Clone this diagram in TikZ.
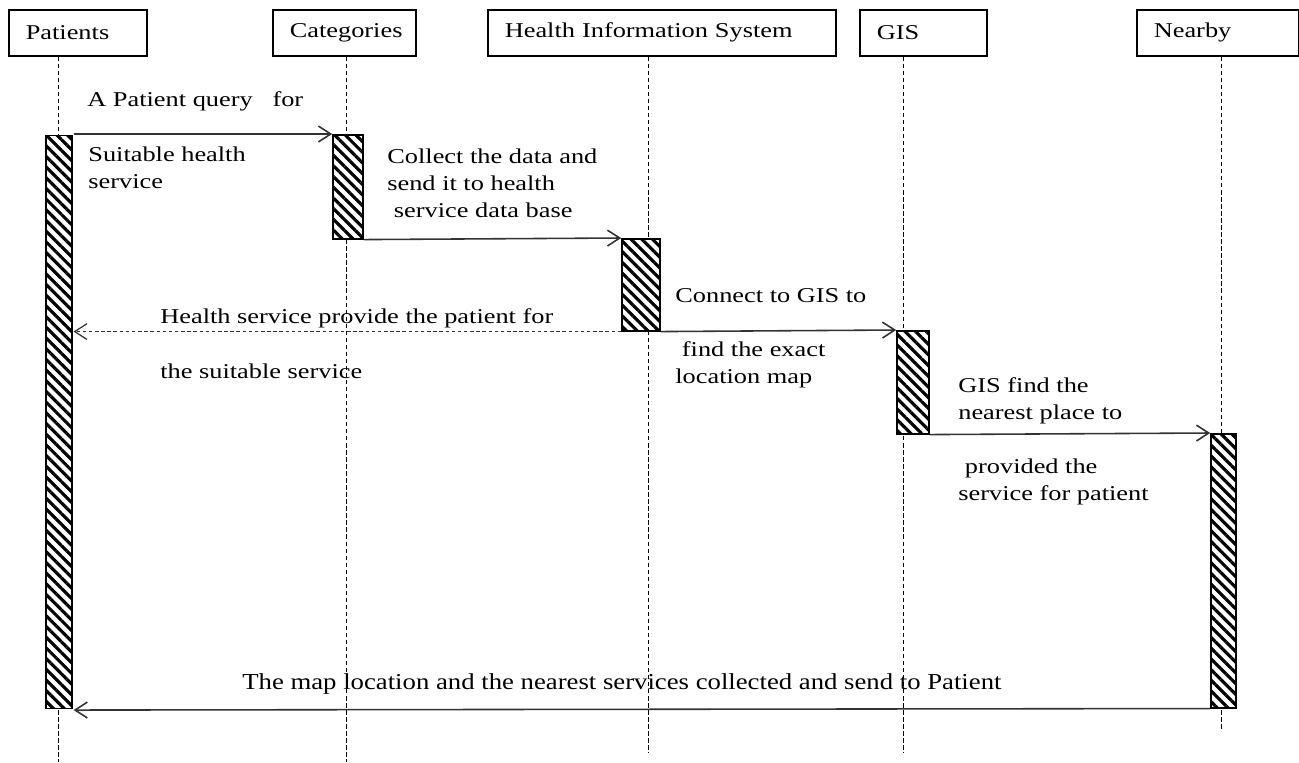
\documentclass[tikz,border=0pt]{standalone}
\usepackage{fontspec}
\setmainfont[FakeStretch=1.25]{Liberation Serif}
\newfontfamily\WideFont[FakeStretch=1.17]{Liberation Serif}
\usepackage{tikz}
\usetikzlibrary{arrows.meta}
\usetikzlibrary{patterns.meta}
\tikzstyle{HeadBox}=[draw,line width=0.9pt,anchor=north west,minimum height=0.92cm,
inner xsep=0.34cm,align=left,font=\fontsize{12}{15.3}\selectfont]
\tikzstyle{ActBar}=[draw,line width=0.9pt,anchor=north,inner sep=0pt,preaction={fill=white},
pattern={Lines[angle=-45,distance=4.3pt,line width=1.8pt]}]
\tikzstyle{LifeLine}=[line width=0.5pt,dash pattern=on 2.5pt off 1.5pt]
\tikzstyle{MsgArrow}=[line width=0.9pt,black!80,-{Straight Barb[length=7pt,width=9pt]}]
\tikzstyle{ReplyArrow}=[MsgArrow,line width=0.7pt,dash pattern=on 2pt off 1.5pt]
\tikzstyle{MsgText}=[anchor=base west,inner sep=0pt,align=left,font=\fontsize{12}{15.3}\selectfont]

\begin{document}
\begin{tikzpicture}[x=0.02cm,y=-0.02cm]
        \useasboundingbox(0,0)rectangle(1299,762);
        % heads
        \node[HeadBox,text width=2.08cm](pat)at(8,9){Patients};
        \node[HeadBox,text width=2.18cm](cat)at(272,9){Categories};
        \node[HeadBox,text width=6.28cm](his)at(487,9){Health Information System};
        \node[HeadBox,text width=1.86cm](gis)at(859,9){GIS};
        \node[HeadBox,text width=2.56cm](near)at(1136,9){Nearby};
        % lifelines
        \coordinate(patEnd)at(58,762);
        \coordinate(catEnd)at(346,762);
        \coordinate(hisEnd)at(648,753);
        \coordinate(gisEnd)at(903,753);
        \coordinate(nearEnd)at(1221,731);
        \draw[LifeLine](pat.south -| patEnd)--(patEnd);
        \draw[LifeLine](cat.south -| catEnd)--(catEnd);
        \draw[LifeLine](his.south -| hisEnd)--(hisEnd);
        \draw[LifeLine](gis.south -| gisEnd)--(gisEnd);
        \draw[LifeLine](near.south -| nearEnd)--(nearEnd);
        % activations
        \node[ActBar,minimum width=0.52cm,minimum height=11.46cm](patBar)at(59,134){};
        \node[ActBar,minimum width=0.6cm,minimum height=2.08cm](catBar)at(348,134){};
        \node[ActBar,minimum width=0.76cm,minimum height=1.84cm](hisBar)at(641,238){};
        \node[ActBar,minimum width=0.64cm,minimum height=2.06cm](gisBar)at(913,330){};
        \node[ActBar,minimum width=0.5cm,minimum height=5.48cm](nearBar)at(1223.5,433){};
        % messages
        \draw[MsgArrow](patBar.north east)--(catBar.north west);
        \draw[MsgArrow](catBar.south east)--(hisBar.north west);
        \draw[MsgArrow](hisBar.south east)--(gisBar.north west);
        \draw[ReplyArrow](hisBar.south west)--(patBar.east |- hisBar.south west);
        \draw[MsgArrow](gisBar.south east)--(nearBar.north west);
        \draw[MsgArrow](nearBar.south west)--(patBar.south east);
        % labels (y = baseline of last line)
        \node[MsgText](m1a)at(87,106){A Patient query~~~for};
        \node[MsgText](m1b)at(88,188){Suitable health\\service};
        \node[MsgText](m2)at(387,217){Collect the data and\\send it to health\\~service~data base};
        \node[MsgText](m3a)at(675,302){Connect to GIS to};
        \node[MsgText](m3b)at(675,383){~find the exact\\location map};
        \node[MsgText](r1a)at(160,323){Health service provide the patient for};
        \node[MsgText](r1b)at(160,378){the suitable service};
        \node[MsgText](m4a)at(958,419){GIS find the\\nearest place to};
        \node[MsgText](m4b)at(958,500){~provided the\\service for patient};
        \node[MsgText,font=\WideFont\fontsize{13}{15}\selectfont](m5)at(242,689){The map location and the nearest services collected and send to Patient};
    \end{tikzpicture}
\end{document}
